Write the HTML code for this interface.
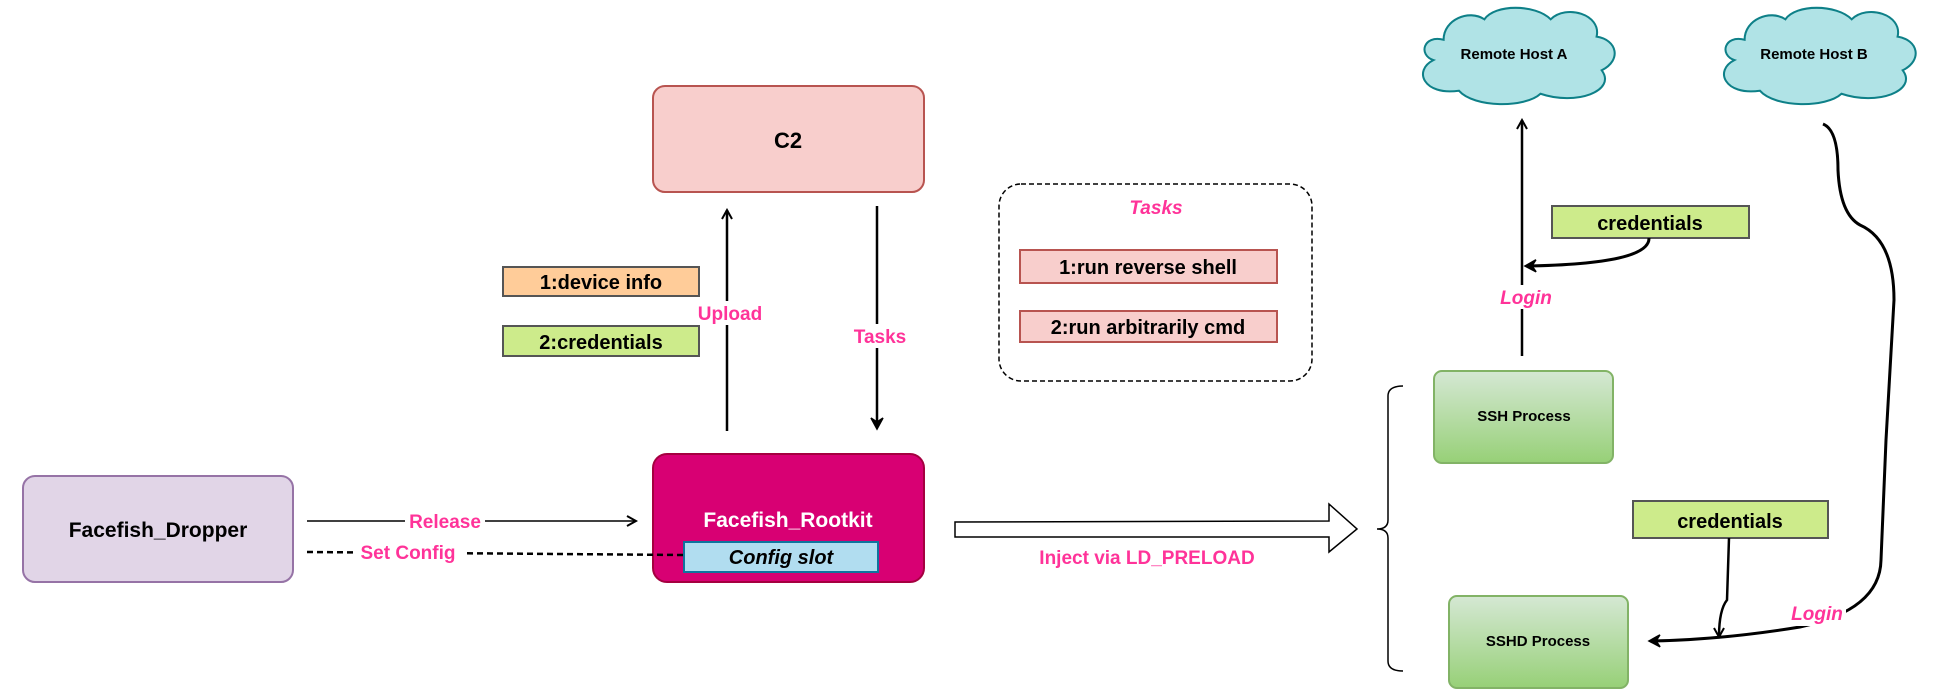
<!DOCTYPE html>
<html><head><meta charset="utf-8"><style>
html,body{margin:0;padding:0;background:#fff;}
svg{display:block;font-family:"Liberation Sans",Arial,sans-serif;}
</style></head><body>
<svg width="1937" height="698" viewBox="0 0 1937 698" xmlns="http://www.w3.org/2000/svg">
<defs>
<linearGradient id="g" x1="0" y1="0" x2="0" y2="1"><stop offset="0" stop-color="#d5e8d4"/><stop offset="1" stop-color="#97d077"/></linearGradient>
<marker id="ah" markerWidth="12" markerHeight="12" refX="10" refY="6" orient="auto" markerUnits="userSpaceOnUse"><path d="M1,1 L10,6 L1,11" fill="none" stroke="#000" stroke-width="2"/></marker>
<marker id="ahb" markerWidth="14" markerHeight="14" refX="11" refY="7" orient="auto" markerUnits="userSpaceOnUse"><path d="M1,1 L12,7 L1,13 L5,7 Z" fill="#000" stroke="#000" stroke-width="1.5"/></marker>
<path id="cloud" d="M30,35 C10,30 5,50 20,55 C0,65 10,90 45,85 C60,102 110,102 125,88 C160,100 200,85 185,65 C205,55 200,35 180,32 C185,10 150,0 135,15 C120,0 80,0 70,15 C55,5 30,15 30,35 Z"/>
</defs>

<rect x="653" y="86" width="271" height="106" rx="12" fill="#f8cecc" stroke="#b85450" stroke-width="2"/>
<text x="788" y="148" font-size="22" font-weight="bold" text-anchor="middle">C2</text>

<rect x="503" y="267" width="196" height="29" fill="#ffcc99" stroke="#555" stroke-width="2"/>
<text x="601" y="289" font-size="20" font-weight="bold" text-anchor="middle">1:device info</text>
<rect x="503" y="326" width="196" height="30" fill="#cdeb8b" stroke="#555" stroke-width="2"/>
<text x="601" y="349" font-size="20" font-weight="bold" text-anchor="middle">2:credentials</text>

<line x1="727" y1="431" x2="727" y2="210" stroke="#000" stroke-width="2.5" marker-end="url(#ah)"/>
<rect x="697" y="301" width="66" height="24" fill="#fff"/>
<text x="730" y="320" font-size="19" font-weight="bold" fill="#ff3399" text-anchor="middle">Upload</text>
<line x1="877" y1="206" x2="877" y2="428" stroke="#000" stroke-width="2.5" marker-end="url(#ahb)"/>
<rect x="850" y="324" width="58" height="24" fill="#fff"/>
<text x="880" y="343" font-size="19" font-weight="bold" fill="#ff3399" text-anchor="middle">Tasks</text>

<rect x="23" y="476" width="270" height="106" rx="12" fill="#e1d5e7" stroke="#9673a6" stroke-width="2"/>
<text x="158" y="537" font-size="21" font-weight="bold" text-anchor="middle">Facefish_Dropper</text>

<rect x="653" y="454" width="271" height="128" rx="14" fill="#d80073" stroke="#a50040" stroke-width="2"/>
<text x="788" y="527" font-size="21" font-weight="bold" fill="#fff" text-anchor="middle">Facefish_Rootkit</text>
<rect x="684" y="542" width="194" height="30" fill="#b1ddf0" stroke="#10739e" stroke-width="2"/>
<text x="781" y="564" font-size="20" font-weight="bold" font-style="italic" text-anchor="middle">Config slot</text>

<line x1="307" y1="521" x2="636" y2="521" stroke="#000" stroke-width="1.5" marker-end="url(#ah)"/>
<rect x="405" y="509" width="80" height="24" fill="#fff"/>
<text x="445" y="528" font-size="19" font-weight="bold" fill="#ff3399" text-anchor="middle">Release</text>
<line x1="307" y1="552" x2="684" y2="555" stroke="#000" stroke-width="2.5" stroke-dasharray="6,4"/>
<rect x="353" y="540" width="110" height="24" fill="#fff"/>
<text x="408" y="559" font-size="19" font-weight="bold" fill="#ff3399" text-anchor="middle">Set Config</text>

<path d="M955,522 L1329,521 L1329,504 L1357,529 L1329,552 L1329,537 L955,537 Z" fill="#fff" stroke="#000" stroke-width="1.5"/>
<text x="1147" y="564" font-size="19" font-weight="bold" fill="#ff3399" text-anchor="middle">Inject via LD_PRELOAD</text>

<path d="M1403,386 Q1388,386 1388,396 L1388,520 Q1388,529 1377,529 Q1388,529 1388,538 L1388,661 Q1388,671 1403,671" fill="none" stroke="#000" stroke-width="1.5"/>

<rect x="999" y="184" width="313" height="197" rx="22" fill="none" stroke="#000" stroke-width="1.5" stroke-dasharray="5,3"/>
<text x="1156" y="214" font-size="19" font-weight="bold" font-style="italic" fill="#ff3399" text-anchor="middle">Tasks</text>
<rect x="1020" y="250" width="257" height="33" fill="#f8cecc" stroke="#b85450" stroke-width="2"/>
<text x="1148" y="274" font-size="20" font-weight="bold" text-anchor="middle">1:run reverse shell</text>
<rect x="1020" y="311" width="257" height="31" fill="#f8cecc" stroke="#b85450" stroke-width="2"/>
<text x="1148" y="334" font-size="20" font-weight="bold" text-anchor="middle">2:run arbitrarily cmd</text>

<use href="#cloud" transform="translate(1413,4) scale(1.02,1.02)" fill="#b0e3e6" stroke="#0e8088" stroke-width="2"/>
<text x="1514" y="59" font-size="15" font-weight="bold" text-anchor="middle">Remote Host A</text>
<use href="#cloud" transform="translate(1714,4) scale(1.02,1.02)" fill="#b0e3e6" stroke="#0e8088" stroke-width="2"/>
<text x="1814" y="59" font-size="15" font-weight="bold" text-anchor="middle">Remote Host B</text>

<line x1="1522" y1="356" x2="1522" y2="120" stroke="#000" stroke-width="2.5" marker-end="url(#ah)"/>
<rect x="1552" y="206" width="197" height="32" fill="#cdeb8b" stroke="#555" stroke-width="2"/>
<text x="1650" y="230" font-size="20" font-weight="bold" text-anchor="middle">credentials</text>
<path d="M1649,238 Q1650,264 1526,266" fill="none" stroke="#000" stroke-width="3" marker-end="url(#ahb)"/>
<rect x="1496" y="285" width="60" height="24" fill="#fff"/>
<text x="1526" y="304" font-size="19" font-weight="bold" font-style="italic" fill="#ff3399" text-anchor="middle">Login</text>

<rect x="1434" y="371" width="179" height="92" rx="8" fill="url(#g)" stroke="#82b366" stroke-width="2"/>
<text x="1524" y="421" font-size="15" font-weight="bold" text-anchor="middle">SSH Process</text>
<rect x="1449" y="596" width="179" height="92" rx="8" fill="url(#g)" stroke="#82b366" stroke-width="2"/>
<text x="1538" y="646" font-size="15" font-weight="bold" text-anchor="middle">SSHD Process</text>

<rect x="1633" y="501" width="195" height="37" fill="#cdeb8b" stroke="#555" stroke-width="2"/>
<text x="1730" y="528" font-size="20" font-weight="bold" text-anchor="middle">credentials</text>
<path d="M1729,538 L1727,600 Q1719,610 1719,637" fill="none" stroke="#000" stroke-width="2.5" marker-end="url(#ah)"/>

<path d="M1823,124 Q1838,130 1838,170 Q1840,214 1860,225 Q1894,240 1894,300 L1886,440 L1881,560 Q1880,610 1800,627 Q1720,640 1650,641" fill="none" stroke="#000" stroke-width="3" marker-end="url(#ahb)"/>
<rect x="1788" y="602" width="58" height="24" fill="#fff"/>
<text x="1817" y="620" font-size="19" font-weight="bold" font-style="italic" fill="#ff3399" text-anchor="middle">Login</text>
</svg>
</body></html>
